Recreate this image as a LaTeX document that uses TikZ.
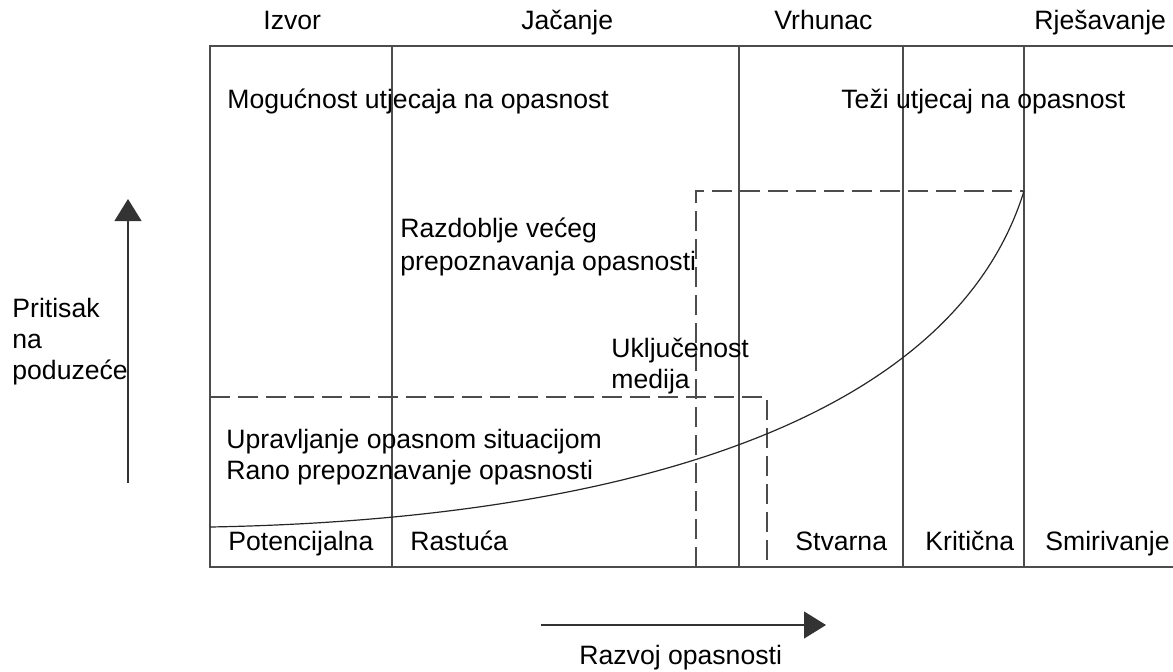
\documentclass[tikz,border=0pt]{standalone}
\usepackage{fontspec}
\setmainfont{Liberation Sans}
\usetikzlibrary{arrows.meta, positioning}

\begin{document}
\begin{tikzpicture}[
    x=0.5pt, y=-0.5pt,
    txt/.style={anchor=base west, inner sep=0pt, font=\fontsize{13.3}{16}\selectfont},
    gridline/.style={draw=black!70, line width=0.6pt},
    zone/.style={draw=black!70, line width=0.6pt, dash pattern=on 10pt off 4pt},
    axis/.style={draw=black!80, line width=0.6pt, -{Triangle[length=11pt, width=13.5pt]}}
]
    \useasboundingbox (0,0) rectangle (1173,671);

    % frame and phase borders
    \draw[gridline] (1173,46) -- (210,46) -- (210,567) -- (1173,567);
    \foreach \px in {392, 739, 903, 1024}
        \draw[gridline] (\px,46) -- (\px,567);

    % dashed zones
    \draw[zone] (210,397) -- (767,397) -- (767,567);
    \draw[zone] (696,567) -- (696,191) -- (1024,191);

    % pressure curve
    \coordinate (cstart) at (210,527);
    \coordinate (cend)   at (1024,191);
    \draw[draw=black!85, line width=0.6pt] (cstart) .. controls (600,520) and (950,430) .. (cend);

    % phases
    \node[txt] (izvor)  at (263,29)  {Izvor};
    \node[txt] (jacanje) at (521,29) {Jačanje};
    \node[txt] (vrhunac) at (774,29) {Vrhunac};
    \node[txt] (rjes)   at (1034,29) {Rješavanje};

    % areas
    \node[txt] (mogucnost) at (227,108) {Mogućnost utjecaja na opasnost};
    \node[txt] (tezi)      at (841,108) {Teži utjecaj na opasnost};
    \node[txt] (razd1) at (400,237) {Razdoblje većeg};
    \node[txt] (razd2) at (400,270) {prepoznavanja opasnosti};
    \node[txt] (uklj1) at (611,357) {Uključenost};
    \node[txt] (uklj2) at (611,388) {medija};
    \node[txt] (uprav) at (226,448) {Upravljanje opasnom situacijom};
    \node[txt] (rano)  at (226,479) {Rano prepoznavanje opasnosti};

    % crisis types
    \node[txt] (potenc)  at (228,550)  {Potencijalna};
    \node[txt] (rastuca) at (410,550)  {Rastuća};
    \node[txt] (stvarna) at (795,550)  {Stvarna};
    \node[txt] (kriticna) at (925,550) {Kritična};
    \node[txt] (smiriv)  at (1045,550) {Smirivanje};

    % axes
    \coordinate (ybot) at (128,483);
    \coordinate (ytop) at (128,199);
    \draw[axis] (ybot) -- (ytop);
    \node[txt] (prit1) at (12,317) {Pritisak};
    \node[txt] (prit2) at (12,348) {na};
    \node[txt] (prit3) at (12,379) {poduzeće};

    \coordinate (xleft)  at (541,625);
    \coordinate (xright) at (826,625);
    \draw[axis] (xleft) -- (xright);
    \node[txt] (razvoj) at (579,664) {Razvoj opasnosti};
\end{tikzpicture}
\end{document}
